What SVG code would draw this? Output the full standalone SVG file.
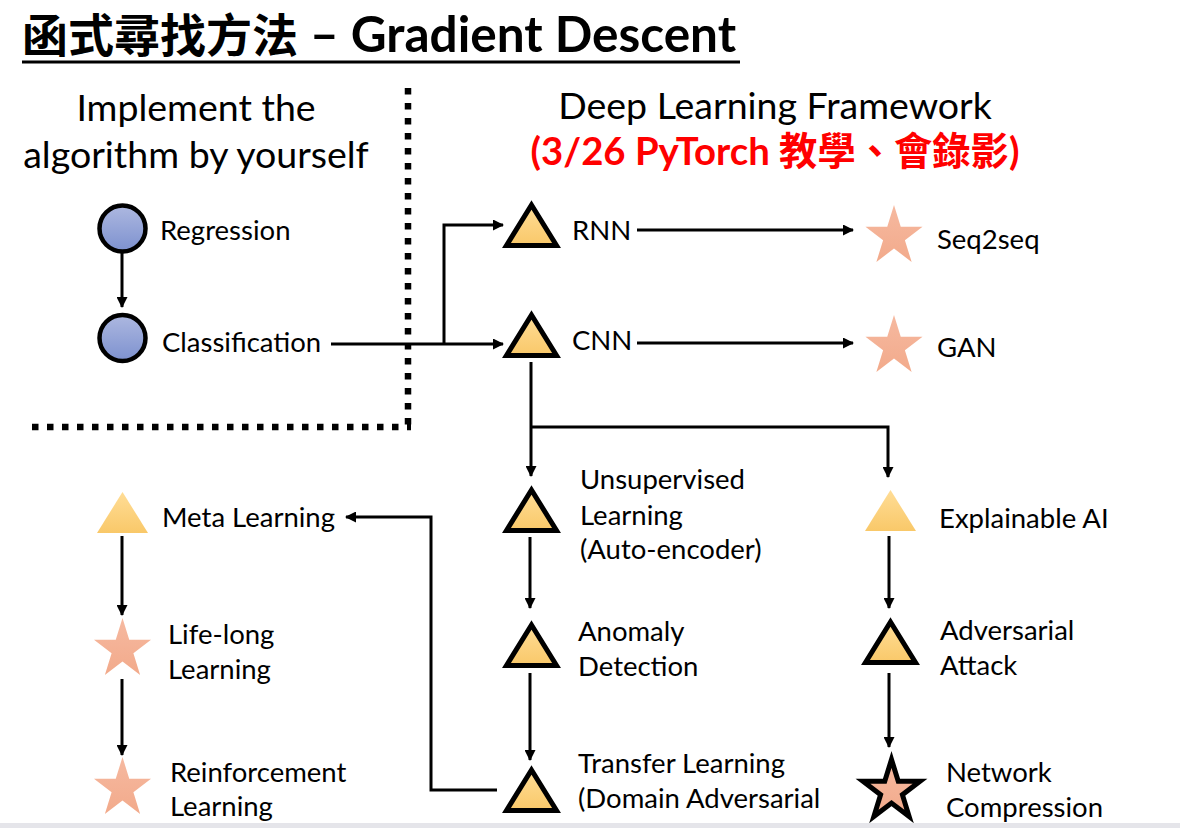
<svg xmlns="http://www.w3.org/2000/svg" width="1180" height="828" viewBox="0 0 1180 828">
<style>
  text { font-family: Lato, "Noto Sans CJK TC", sans-serif; fill: #000; }
  .lbl { font-size: 27.5px; }
  .hdr { font-size: 37.5px; text-anchor: middle; }
  .title { font-size: 46px; font-weight: bold; }
  .red { font-size: 38.3px; font-weight: bold; fill: #ff0000; text-anchor: middle; }
  .conn { fill: none; stroke: #000; stroke-width: 3; }
  .tri { fill: url(#gTri); }
  .tris { fill: url(#gTri); stroke: #000; stroke-width: 5; stroke-linejoin: miter; }
  .star { fill: url(#gStar); }
  .stars { fill: url(#gStar); stroke: #000; stroke-width: 5; stroke-linejoin: miter; }
  .circ { fill: url(#gCirc); stroke: #000; stroke-width: 4.5; }
  .dots { fill: none; stroke: #000; stroke-width: 6.5; stroke-dasharray: 6.5 8.5; }
</style>
<defs>
  <linearGradient id="gTri" x1="0" y1="0" x2="0" y2="1">
    <stop offset="0" stop-color="#ffdd96"/>
    <stop offset="1" stop-color="#f9c869"/>
  </linearGradient>
  <linearGradient id="gStar" x1="0" y1="0" x2="0" y2="1">
    <stop offset="0" stop-color="#f6b9a0"/>
    <stop offset="1" stop-color="#f2aa8b"/>
  </linearGradient>
  <linearGradient id="gCirc" x1="0" y1="0" x2="0" y2="1">
    <stop offset="0" stop-color="#adb8e0"/>
    <stop offset="1" stop-color="#7d91cf"/>
  </linearGradient>
  <marker id="arr" markerUnits="userSpaceOnUse" markerWidth="11" markerHeight="11" refX="10" refY="5.5" orient="auto">
    <path d="M0,0 L11,5.5 L0,11 Z" fill="#000"/>
  </marker>
  <path id="triS" d="M0,-22 L25,18.5 L-25,18.5 Z"/>
  <path id="triP" d="M0,-20.5 L25.5,20.5 L-25.5,20.5 Z"/>
  <path id="star" d="M0,-31.5 L6.74,-9.73 L28.53,-9.73 L10.9,3.72 L17.63,25.48 L0,12.03 L-17.63,25.48 L-10.9,3.72 L-28.53,-9.73 L-6.74,-9.73 Z"/>
</defs>
<rect x="0" y="0" width="1180" height="828" fill="#fff"/>

<!-- title -->
<text class="title" x="22" y="52">函式尋找方法<tspan font-size="49.5"> – Gradient Descent</tspan></text>
<line x1="22" y1="62" x2="740" y2="62" stroke="#000" stroke-width="3"/>

<!-- headers -->
<text class="hdr" x="196" y="121">Implement the</text>
<text class="hdr" x="196" y="168">algorithm by yourself</text>
<text class="hdr" x="775" y="119">Deep Learning Framework</text>
<text class="red" x="775" y="165">(3/26 PyTorch 教學、會錄影)</text>

<!-- divider -->
<path class="dots" d="M408,88 V427"/>
<path class="dots" d="M32,427 H411"/>

<!-- connectors -->
<g id="connectors">
  <path class="conn" d="M122,253 V307" marker-end="url(#arr)"/>
  <path class="conn" d="M331,344 H503" marker-end="url(#arr)"/>
  <path class="conn" d="M444,344 V225 H503" marker-end="url(#arr)"/>
  <path class="conn" d="M637,230 H853" marker-end="url(#arr)"/>
  <path class="conn" d="M637,343 H853" marker-end="url(#arr)"/>
  <path class="conn" d="M531,362 V476" marker-end="url(#arr)"/>
  <path class="conn" d="M531,427 H888 V477" marker-end="url(#arr)"/>
  <path class="conn" d="M530,537 V608" marker-end="url(#arr)"/>
  <path class="conn" d="M530,673 V760" marker-end="url(#arr)"/>
  <path class="conn" d="M497,790 H431 V517 H346" marker-end="url(#arr)"/>
  <path class="conn" d="M122,536 V615" marker-end="url(#arr)"/>
  <path class="conn" d="M122,679 V755" marker-end="url(#arr)"/>
  <path class="conn" d="M889,536 V608" marker-end="url(#arr)"/>
  <path class="conn" d="M889,673 V747" marker-end="url(#arr)"/>
</g>

<!-- nodes -->
<g id="regression">
  <circle class="circ" cx="122.5" cy="228.5" r="23"/>
  <text class="lbl" x="160" y="240">Regression</text>
</g>
<g id="classification">
  <circle class="circ" cx="122.5" cy="338" r="23"/>
  <text class="lbl" x="162" y="352">Classification</text>
</g>
<g id="rnn">
  <use href="#triS" class="tris" x="531.5" y="227"/>
  <text class="lbl" x="572" y="240">RNN</text>
</g>
<g id="cnn">
  <use href="#triS" class="tris" x="531.5" y="337"/>
  <text class="lbl" x="572" y="350">CNN</text>
</g>
<g id="seq2seq">
  <use href="#star" class="star" x="894" y="236.5"/>
  <text class="lbl" x="937" y="249">Seq2seq</text>
</g>
<g id="gan">
  <use href="#star" class="star" x="894" y="346.5"/>
  <text class="lbl" x="937" y="357">GAN</text>
</g>
<g id="unsupervised">
  <use href="#triS" class="tris" x="531.5" y="512"/>
  <text class="lbl" x="580" y="489">Unsupervised</text>
  <text class="lbl" x="580" y="525">Learning</text>
  <text class="lbl" x="580" y="559">(Auto-encoder)</text>
</g>
<g id="anomaly">
  <use href="#triS" class="tris" x="531.5" y="647"/>
  <text class="lbl" x="578" y="641">Anomaly</text>
  <text class="lbl" x="578" y="676">Detection</text>
</g>
<g id="transfer">
  <use href="#triS" class="tris" x="531.5" y="792"/>
  <text class="lbl" x="578" y="773">Transfer Learning</text>
  <text class="lbl" x="578" y="808">(Domain Adversarial</text>
</g>
<g id="meta">
  <use href="#triP" class="tri" x="122.5" y="512.5"/>
  <text class="lbl" x="162" y="527">Meta Learning</text>
</g>
<g id="lifelong">
  <use href="#star" class="star" x="122.5" y="649.5"/>
  <text class="lbl" x="168" y="644">Life-long</text>
  <text class="lbl" x="168" y="679">Learning</text>
</g>
<g id="reinforcement">
  <use href="#star" class="star" x="122.5" y="788.5"/>
  <text class="lbl" x="170" y="782">Reinforcement</text>
  <text class="lbl" x="170" y="816">Learning</text>
</g>
<g id="explainable">
  <use href="#triP" class="tri" x="890.5" y="510.5"/>
  <text class="lbl" x="939" y="528">Explainable AI</text>
</g>
<g id="adversarial">
  <use href="#triS" class="tris" x="890.5" y="644"/>
  <text class="lbl" x="940" y="640">Adversarial</text>
  <text class="lbl" x="940" y="675">Attack</text>
</g>
<g id="compression">
  <use href="#star" class="stars" x="891.5" y="791"/>
  <text class="lbl" x="946" y="782">Network</text>
  <text class="lbl" x="946" y="817">Compression</text>
</g>

<rect x="0" y="823" width="1180" height="5" fill="#e5e5ea"/>
</svg>
